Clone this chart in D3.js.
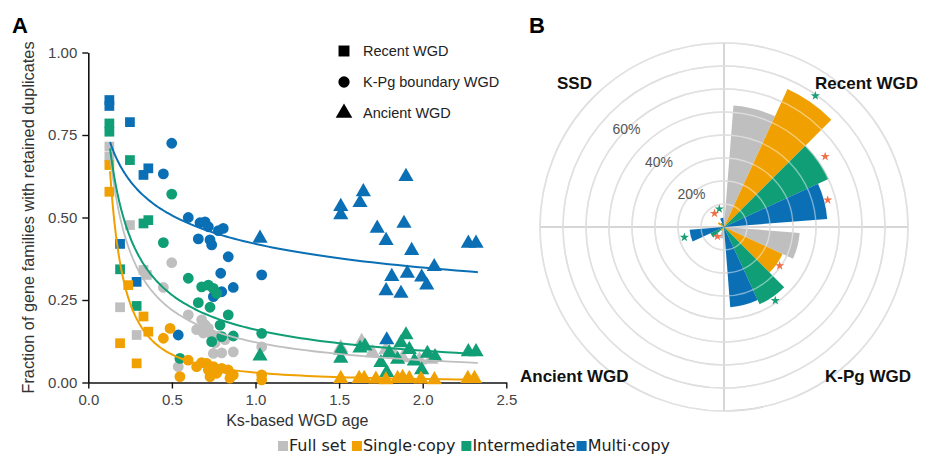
<!DOCTYPE html>
<html><head><meta charset="utf-8">
<script src="https://cdn.jsdelivr.net/npm/d3@7"></script>
<style>
body{margin:0;background:#fff}
svg{display:block}
text{font-family:"Liberation Sans",Arial,sans-serif}
</style>
</head><body>
<svg id="chart" width="926" height="455"></svg>
<script>
// ---------------- DATA ----------------
const seriesNames = ["Full set", "Single·copy", "Intermediate", "Multi·copy"];
const seriesColors = ["#bfbfbf", "#f0a000", "#0f9e75", "#0a6fb4"];
const wgdTypes = ["Recent WGD", "K-Pg boundary WGD", "Ancient WGD"];
const xTicks = [0, 0.5, 1, 1.5, 2, 2.5];
const yTicks = [0, 0.25, 0.5, 0.75, 1];

// [Ks, fraction, type]  type: R = recent (square), K = K-Pg (circle), A = ancient (triangle)
const fullSetPoints = [
  [0.126,0.715,"R"],[0.126,0.684,"R"],[0.19,0.228,"R"],[0.249,0.477,"R"],[0.289,0.144,"R"],[0.33,0.341,"R"],[0.35,0.326,"R"],
  [0.499,0.363,"K"],[0.449,0.288,"K"],[0.598,0.205,"K"],[0.648,0.16,"K"],[0.678,0.19,"K"],[0.698,0.175,"K"],[0.718,0.165,"K"],
  [0.688,0.15,"K"],[0.738,0.145,"K"],[0.758,0.12,"K"],[0.748,0.088,"K"],[0.798,0.09,"K"],[0.867,0.093,"K"],[0.538,0.048,"K"],
  [1.037,0.108,"K"],[0.778,0.14,"K"],[0.818,0.13,"K"],
  [1.51,0.105,"A"],[1.635,0.124,"A"],[1.70,0.09,"A"],[1.78,0.10,"A"],[1.83,0.085,"A"],[1.88,0.075,"A"],[1.98,0.068,"A"],[2.05,0.07,"A"]
];
const singleCopyPoints = [
  [0.126,0.659,"R"],[0.126,0.578,"R"],[0.19,0.119,"R"],[0.239,0.295,"R"],[0.289,0.058,"R"],[0.33,0.2,"R"],[0.359,0.154,"R"],
  [0.489,0.164,"K"],[0.449,0.134,"K"],[0.548,0.018,"K"],[0.597,0.068,"K"],[0.648,0.048,"K"],[0.708,0.058,"K"],[0.718,0.038,"K"],
  [0.748,0.048,"K"],[0.768,0.028,"K"],[0.798,0.043,"K"],[0.837,0.038,"K"],[0.867,0.023,"K"],[0.728,0.018,"K"],[0.847,0.013,"K"],
  [1.037,0.023,"K"],[1.037,0.008,"K"],[0.678,0.06,"K"],
  [1.51,0.012,"A"],[1.62,0.012,"A"],[1.65,0.012,"A"],[1.72,0.01,"A"],[1.78,0.008,"A"],[1.85,0.012,"A"],[1.88,0.015,"A"],
  [1.92,0.012,"A"],[1.99,0.01,"A"],[2.07,0.008,"A"],[2.27,0.012,"A"],[2.31,0.012,"A"]
];
const intermediatePoints = [
  [0.126,0.785,"R"],[0.126,0.76,"R"],[0.19,0.343,"R"],[0.249,0.674,"R"],[0.289,0.232,"R"],[0.33,0.482,"R"],[0.359,0.492,"R"],
  [0.499,0.571,"K"],[0.449,0.424,"K"],[0.598,0.316,"K"],[0.678,0.29,"K"],[0.718,0.295,"K"],[0.748,0.285,"K"],[0.658,0.242,"K"],
  [0.728,0.228,"K"],[0.837,0.205,"K"],[0.788,0.174,"K"],[0.798,0.139,"K"],[0.867,0.141,"K"],[0.738,0.124,"K"],[0.548,0.073,"K"],
  [1.037,0.149,"K"],[0.768,0.27,"K"],
  [1.027,0.08,"A"],[1.51,0.098,"A"],[1.51,0.073,"A"],[1.625,0.104,"A"],[1.655,0.11,"A"],[1.90,0.144,"A"],[1.87,0.12,"A"],
  [1.92,0.10,"A"],[1.80,0.09,"A"],[1.75,0.06,"A"],[1.85,0.07,"A"],[1.785,0.03,"A"],[1.994,0.038,"A"],[2.028,0.088,"A"],
  [2.074,0.078,"A"],[2.273,0.093,"A"],[2.319,0.093,"A"],[1.95,0.065,"A"]
];
const multiCopyPoints = [
  [0.126,0.856,"R"],[0.126,0.838,"R"],[0.19,0.42,"R"],[0.249,0.789,"R"],[0.289,0.305,"R"],[0.33,0.629,"R"],[0.359,0.649,"R"],
  [0.499,0.725,"K"],[0.449,0.632,"K"],[0.598,0.50,"K"],[0.668,0.484,"K"],[0.698,0.487,"K"],[0.718,0.472,"K"],[0.778,0.46,"K"],
  [0.807,0.467,"K"],[0.658,0.435,"K"],[0.728,0.432,"K"],[0.738,0.417,"K"],[0.837,0.381,"K"],[0.792,0.331,"K"],[1.037,0.326,"K"],
  [0.798,0.275,"K"],[0.867,0.288,"K"],[0.748,0.26,"K"],[0.538,0.144,"K"],
  [1.027,0.437,"A"],[1.90,0.624,"A"],[1.645,0.578,"A"],[1.625,0.545,"A"],[1.51,0.533,"A"],[1.51,0.508,"A"],[1.728,0.467,"A"],
  [1.888,0.482,"A"],[1.781,0.43,"A"],[1.934,0.40,"A"],[2.273,0.422,"A"],[2.319,0.422,"A"],[2.069,0.351,"A"],[1.908,0.331,"A"],
  [1.815,0.321,"A"],[1.994,0.319,"A"],[2.024,0.295,"A"],[1.781,0.278,"A"],[1.870,0.27,"A"],[1.785,0.129,"A"]
];
// fitted power-law trend y = a * x^b
const fitA = [0.122, 0.030, 0.160, 0.420];
const fitB = [-0.85, -1.50, -0.73, -0.27];
const fitKsRange = [0.13, 2.33];

// Panel B
const polarCategories = ["Recent WGD", "K-Pg WGD", "Ancient WGD", "SSD"];
const polarFullSet = [53, 33, 5, 1];
const polarSingleCopy = [66, 28, 2, 3];
const polarIntermediate = [50, 37, 6.5, 2];
const polarMultiCopy = [45, 35, 15, 4];
const polarRings = [10, 20, 30, 40, 50, 60, 70, 80];
const polarRingLabels = [20, 40, 60];
const starCategory = ["Recent WGD","Recent WGD","Recent WGD","K-Pg WGD","K-Pg WGD","Ancient WGD","Ancient WGD","SSD","SSD"];
const starSeries = [1, 2, 3, 1, 2, 1, 3, 2, 3];
const starRadius = [69.5, 53.6, 46.6, 29.5, 39, 5, 17.8, 7.2, 8.1];
const starKind = ["g","o","o","o","g","o","g","o","g"];
const starColors = {o: "#f0704a", g: "#1a9e77"};

// ---------------- PANEL A ----------------
const svg = d3.select("#chart");
const x = d3.scaleLinear().domain([0, 2.5]).range([88.3, 506.3]);
const y = d3.scaleLinear().domain([0, 1]).range([382.5, 52.5]);

const gA = svg.append("g");

const xAxis = gA.append("g").attr("transform", `translate(0,${y(0)})`)
  .call(d3.axisBottom(x).tickValues(xTicks).tickFormat(d3.format(".1f")).tickSize(6).tickSizeOuter(0).tickPadding(6));
const yAxis = gA.append("g").attr("transform", `translate(${x(0)},0)`)
  .call(d3.axisLeft(y).tickValues(yTicks).tickFormat(d3.format(".2f")).tickSize(6).tickSizeOuter(0).tickPadding(5));
[xAxis, yAxis].forEach(a => {
  a.select(".domain").attr("stroke", "#111").attr("stroke-width", 1.6);
  a.selectAll(".tick line").attr("stroke", "#111").attr("stroke-width", 1.4);
  a.selectAll(".tick text").attr("fill", "#444").style("font-size", "15px").style("font-family", "'Liberation Sans',Arial,sans-serif");
});

gA.append("text").attr("x", (x(0) + x(2.5)) / 2).attr("y", 426).attr("text-anchor", "middle")
  .attr("fill", "#333").style("font-size", "16px").text("Ks-based WGD age");
gA.append("text").attr("transform", `translate(34,${(y(0) + y(1)) / 2}) rotate(-90)`).attr("text-anchor", "middle")
  .attr("fill", "#333").style("font-size", "16.3px").text("Fraction of gene families with retained duplicates");

const shapeOf = t => t === "R" ? d3.symbolSquare : (t === "K" ? d3.symbolCircle : d3.symbolTriangle);
const sizeOf = t => t === "R" ? 95 : (t === "K" ? 92 : 100);
const allSeries = [fullSetPoints, singleCopyPoints, intermediatePoints, multiCopyPoints];
const drawOrder = [0, 3, 2, 1];
drawOrder.forEach(si => {
  gA.append("g").selectAll("path").data(allSeries[si]).join("path")
    .attr("transform", d => `translate(${x(d[0])},${y(d[1])})`)
    .attr("d", d => d3.symbol(shapeOf(d[2]), sizeOf(d[2]))())
    .attr("fill", seriesColors[si]);
});
// trend lines
const fitX = d3.range(0, 101).map(i => fitKsRange[0] * Math.pow(fitKsRange[1] / fitKsRange[0], i / 100));
drawOrder.forEach(si => {
  const line = d3.line().x(k => x(k)).y(k => y(fitA[si] * Math.pow(k, fitB[si]))).curve(d3.curveBasis);
  gA.append("path").attr("d", line(fitX)).attr("fill", "none")
    .attr("stroke", seriesColors[si]).attr("stroke-width", si === 0 ? 1.8 : 2);
});

// shape legend
const shapeLeg = gA.append("g");
wgdTypes.forEach((t, i) => {
  const yy = 51 + i * 31;
  const code = ["R", "K", "A"][i];
  shapeLeg.append("path").attr("transform", `translate(344,${yy})`)
    .attr("d", d3.symbol(shapeOf(code), code === "R" ? 120 : (code === "K" ? 100 : 120))()).attr("fill", "#000");
  shapeLeg.append("text").attr("x", 363).attr("y", yy).attr("dy", "0.35em")
    .attr("fill", "#222").style("font-size", "14.5px").text(t);
});

// panel letters
svg.append("text").attr("x", 12).attr("y", 33).style("font-size", "22px").style("font-weight", "bold").text("A");
svg.append("text").attr("x", 529).attr("y", 33).style("font-size", "22px").style("font-weight", "bold").text("B");

// ---------------- PANEL B ----------------
const cx = 724, cy = 227;
const r = d3.scaleLinear().domain([0, 80]).range([0, 184]);
const gB = svg.append("g").attr("transform", `translate(${cx},${cy})`);
const ang = d3.scaleBand().domain(polarCategories).range([0, 2 * Math.PI]);
const sub = d3.scaleBand().domain(d3.range(4)).range([0, ang.bandwidth()]).paddingOuter(0.22).paddingInner(0);

gB.append("g").selectAll("circle").data(polarRings).join("circle")
  .attr("r", d => r(d)).attr("fill", "none").attr("stroke", "#c9c9c9").attr("stroke-width", 1.5);
gB.append("line").attr("x1", -r(80)).attr("x2", r(80)).attr("stroke", "#c9c9c9").attr("stroke-width", 1.5);
gB.append("line").attr("y1", -r(80)).attr("y2", r(80)).attr("stroke", "#c9c9c9").attr("stroke-width", 1.5);

const polarSeries = [polarFullSet, polarSingleCopy, polarIntermediate, polarMultiCopy];
const bars = [];
polarCategories.forEach((c, ci) => polarSeries.forEach((vals, si) => {
  const a0 = ang(c) + sub(si);
  bars.push({c, si, v: vals[ci], a0, a1: a0 + sub.bandwidth()});
}));
const arc = d3.arc().innerRadius(0).outerRadius(d => r(d.v)).startAngle(d => d.a0).endAngle(d => d.a1);
gB.append("g").selectAll("path").data(bars).join("path").attr("d", arc).attr("fill", d => seriesColors[d.si]);

// rings showing through bars
gB.append("g").selectAll("circle").data(polarRings).join("circle")
  .attr("r", d => r(d)).attr("fill", "none").attr("stroke", "#fff").attr("stroke-opacity", 0.45).attr("stroke-width", 1.4);

// stars
const stars = starCategory.map((c, i) => {
  const a = ang(c) + sub(starSeries[i]) + sub.bandwidth() / 2;
  const rr = r(starRadius[i]);
  return {x: rr * Math.sin(a), y: -rr * Math.cos(a), k: starKind[i]};
});
gB.append("g").selectAll("path").data(stars).join("path")
  .attr("transform", d => `translate(${d.x},${d.y})`)
  .attr("d", d3.symbol(d3.symbolStar, 26)()).attr("fill", d => starColors[d.k]);

// ring labels
gB.append("g").selectAll("text").data(polarRingLabels).join("text")
  .attr("x", d => -r(d) * Math.SQRT1_2).attr("y", d => -r(d) * Math.SQRT1_2)
  .attr("text-anchor", "middle").attr("dy", "0.35em")
  .attr("fill", "#555").style("font-size", "14px").text(d => d + "%");

// quadrant labels
const qLab = [
  {t: "SSD", x: 557, y: 89},
  {t: "Recent WGD", x: 815, y: 89},
  {t: "Ancient WGD", x: 520, y: 382},
  {t: "K-Pg WGD", x: 825, y: 382}
];
svg.append("g").selectAll("text").data(qLab).join("text")
  .attr("x", d => d.x).attr("y", d => d.y).attr("fill", "#111")
  .style("font-size", "17px").style("font-weight", "bold").text(d => d.t);

// bottom legend
const leg = svg.append("g");
let lx = 278;
seriesNames.forEach((n, i) => {
  leg.append("rect").attr("x", lx).attr("y", 441).attr("width", 10).attr("height", 10).attr("fill", seriesColors[i]);
  const t = leg.append("text").attr("x", lx + 11).attr("y", 451).attr("fill", "#222")
    .style("font-family", "'DejaVu Sans',Verdana,sans-serif").style("font-size", "16px").text(n);
  lx += 11 + t.node().getComputedTextLength() + (i === 2 ? 1 : 6);
});
</script>
</body></html>
